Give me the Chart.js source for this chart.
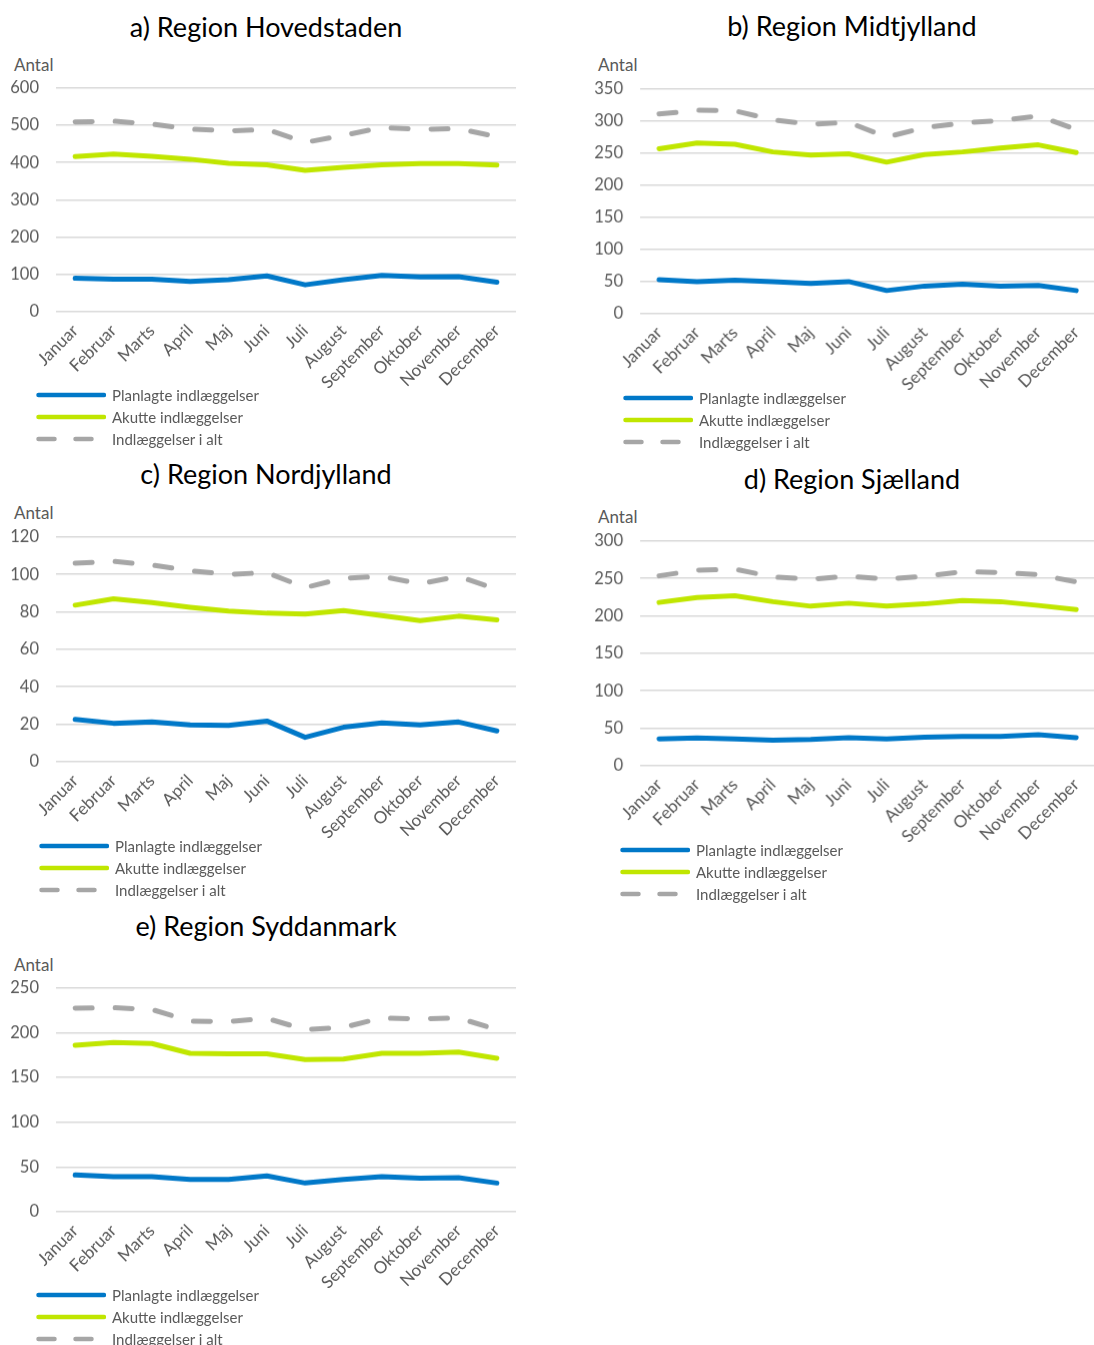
<!DOCTYPE html>
<html>
<head>
<meta charset="utf-8">
<script src="https://cdn.jsdelivr.net/npm/chart.js@4.4.1/dist/chart.umd.min.js"></script>
<style>
  body { margin: 0; width: 1094px; height: 1345px; position: relative; overflow: hidden; background: #fff; font-family: Lato, "Noto Sans", sans-serif; color: #595959; }
  .title { position: absolute; width: 600px; text-align: center; font-size: 27px; color: #000; line-height: 30px; }
  .antal { position: absolute; font-size: 17px; line-height: 20px; }
  canvas { position: absolute; }
  .legend { position: absolute; font-size: 15px; }
  .legend .row { position: absolute; left: 0; height: 22px; display: flex; align-items: center; white-space: nowrap; }
  .legend svg { margin-right: 6px; }
</style>
</head>
<body>
<script>
// Måneder og serienavne
const maaneder = ["Januar", "Februar", "Marts", "April", "Maj", "Juni", "Juli", "August", "September", "Oktober", "November", "December"];
const serier = ["Planlagte indlæggelser", "Akutte indlæggelser", "Indlæggelser i alt"];

// a) Region Hovedstaden
const hovPlanlagte = [90, 87, 87, 81, 86, 96, 72, 86, 97, 93, 94, 79];
const hovAkutte    = [416, 423, 417, 409, 398, 394, 379, 387, 394, 397, 397, 393];
const hovIalt      = [509, 511, 503, 490, 485, 489, 454, 473, 494, 489, 491, 469];

// b) Region Midtjylland
const midPlanlagte = [53, 50, 52, 50, 47, 50, 36, 43, 46, 43, 44, 36];
const midAkutte    = [257, 266, 264, 252, 247, 249, 236, 248, 252, 258, 263, 251];
const midIalt      = [311, 317, 316, 302, 295, 298, 275, 290, 297, 301, 308, 287];

// c) Region Nordjylland
const norPlanlagte = [22.6, 20.5, 21.2, 19.6, 19.4, 21.7, 13, 18.4, 20.7, 19.6, 21.2, 16.4];
const norAkutte    = [83.6, 87, 85, 82.5, 80.4, 79.3, 78.8, 80.7, 78, 75.4, 77.7, 75.8];
const norIalt      = [106, 107, 105, 102, 100, 101, 93, 98, 99, 95, 99, 92];

// d) Region Sjælland
const sjaPlanlagte = [35.7, 37, 35.7, 34, 35, 37.5, 35.7, 38, 39, 39, 41.5, 37.5];
const sjaAkutte    = [218, 224.5, 227, 219, 213, 217, 213, 216, 220.5, 219, 214, 208.5];
const sjaIalt      = [253.5, 261, 262.5, 252, 249, 253, 249, 253, 259, 258, 255, 245.5];

// e) Region Syddanmark
const sydPlanlagte = [41, 39, 39, 36, 36, 40, 32, 36, 39, 37.5, 38, 32];
const sydAkutte    = [186, 189, 188, 177, 176.5, 176.5, 170, 170.5, 177, 177, 178.5, 171.5];
const sydIalt      = [227.5, 228, 226, 213, 212.5, 216, 203.5, 206, 216.5, 215.5, 216.5, 203.5];

const titler = ["a) Region Hovedstaden", "b) Region Midtjylland", "c) Region Nordjylland", "d) Region Sjælland", "e) Region Syddanmark"];
const yMaks  = [600, 350, 120, 300, 250];
const yTrin  = [100, 50, 20, 50, 50];

const BLAA = "#0078C8", GROEN = "#C0E600", GRAA = "#A6A6A6", TEKST = "#595959";
const FONT = "Lato, 'Noto Sans', sans-serif";

// placering af hvert panel (plotområdets kanter)
const paneler = [
  { data: [hovPlanlagte, hovAkutte, hovIalt], left: 56,  right: 516,  top: 88,  bottom: 311,  titleX: 266, titleY: 27,  antalX: 14,  antalY: 65,  legX: 36,  legY: 395 },
  { data: [midPlanlagte, midAkutte, midIalt], left: 640, right: 1094, top: 89,  bottom: 313,  titleX: 852, titleY: 26,  antalX: 598, antalY: 65,  legX: 623, legY: 398 },
  { data: [norPlanlagte, norAkutte, norIalt], left: 56,  right: 516,  top: 537, bottom: 761,  titleX: 266, titleY: 474, antalX: 14,  antalY: 513, legX: 39,  legY: 846 },
  { data: [sjaPlanlagte, sjaAkutte, sjaIalt], left: 640, right: 1094, top: 541, bottom: 765,  titleX: 852, titleY: 479, antalX: 598, antalY: 517, legX: 620, legY: 850 },
  { data: [sydPlanlagte, sydAkutte, sydIalt], left: 56,  right: 516,  top: 988, bottom: 1211, titleX: 266, titleY: 926, antalX: 14,  antalY: 965, legX: 36,  legY: 1295 }
];

function lavLegende(p) {
  const leg = document.createElement("div");
  leg.className = "legend";
  leg.style.left = p.legX + "px";
  leg.style.top = (p.legY - 11) + "px";
  const farver = [BLAA, GROEN, GRAA];
  serier.forEach((navn, i) => {
    const row = document.createElement("div");
    row.className = "row";
    row.style.top = (i * 22) + "px";
    const dash = i === 2 ? 'stroke-dasharray="16 21"' : "";
    row.innerHTML = '<svg width="70" height="8"><line x1="2.5" y1="4" x2="68" y2="4" stroke="' + farver[i] +
      '" stroke-width="4.5" stroke-linecap="round" ' + dash + '/></svg><span>' + navn + '</span>';
    leg.appendChild(row);
  });
  document.body.appendChild(leg);
}

paneler.forEach((p, idx) => {
  const t = document.createElement("div");
  t.className = "title";
  t.textContent = titler[idx];
  t.style.left = (p.titleX - 300) + "px";
  t.style.top = (p.titleY - 15) + "px";
  document.body.appendChild(t);

  const a = document.createElement("div");
  a.className = "antal";
  a.textContent = "Antal";
  a.style.left = p.antalX + "px";
  a.style.top = (p.antalY - 10) + "px";
  document.body.appendChild(a);

  const yW = 56, xH = 92;
  const cv = document.createElement("canvas");
  const cLeft = p.left - yW;
  cv.width = p.right - cLeft;
  cv.height = (p.bottom - p.top) + xH + 20;
  cv.style.left = cLeft + "px";
  document.body.appendChild(cv);

  const chart = new Chart(cv, {
    type: "line",
    data: {
      labels: maaneder,
      datasets: [
        { label: serier[0], data: p.data[0], borderColor: BLAA, borderWidth: 5, pointRadius: 0, tension: 0, borderCapStyle: "round", borderJoinStyle: "round" },
        { label: serier[1], data: p.data[1], borderColor: GROEN, borderWidth: 5, pointRadius: 0, tension: 0, borderCapStyle: "round", borderJoinStyle: "round" },
        { label: serier[2], data: p.data[2], borderColor: GRAA, borderWidth: 5, pointRadius: 0, tension: 0, borderDash: [17, 23], borderCapStyle: "round", borderJoinStyle: "round" }
      ]
    },
    options: {
      responsive: false,
      maintainAspectRatio: false,
      animation: false,
      events: [],
      layout: { padding: 0 },
      plugins: { legend: { display: false }, tooltip: { enabled: false } },
      scales: {
        x: {
          offset: true,
          grid: { display: false, drawTicks: false },
          border: { display: false },
          ticks: { color: TEKST, font: { family: FONT, size: 17 }, minRotation: 45, maxRotation: 45, autoSkip: false, padding: 9 },
          afterFit: (s) => { s.height = xH; }
        },
        y: {
          min: 0, max: yMaks[idx],
          ticks: { stepSize: yTrin[idx], color: TEKST, font: { family: FONT, size: 16.5 }, padding: 17 },
          grid: { color: "#D9D9D9", lineWidth: 1.5, drawTicks: false },
          border: { display: false },
          afterFit: (s) => { s.width = yW; }
        }
      }
    }
  });

  // juster lærredets størrelse og placering, så plotområdet lander hvor det skal
  const ca = chart.chartArea;
  const nyBredde = cv.width + ((p.right - cLeft) - ca.right);
  const nyHoejde = cv.height + ((p.bottom - p.top) - (ca.bottom - ca.top));
  chart.resize(nyBredde, nyHoejde);
  cv.style.top = (p.top - chart.chartArea.top) + "px";

  lavLegende(p);
});
</script>
</body>
</html>
